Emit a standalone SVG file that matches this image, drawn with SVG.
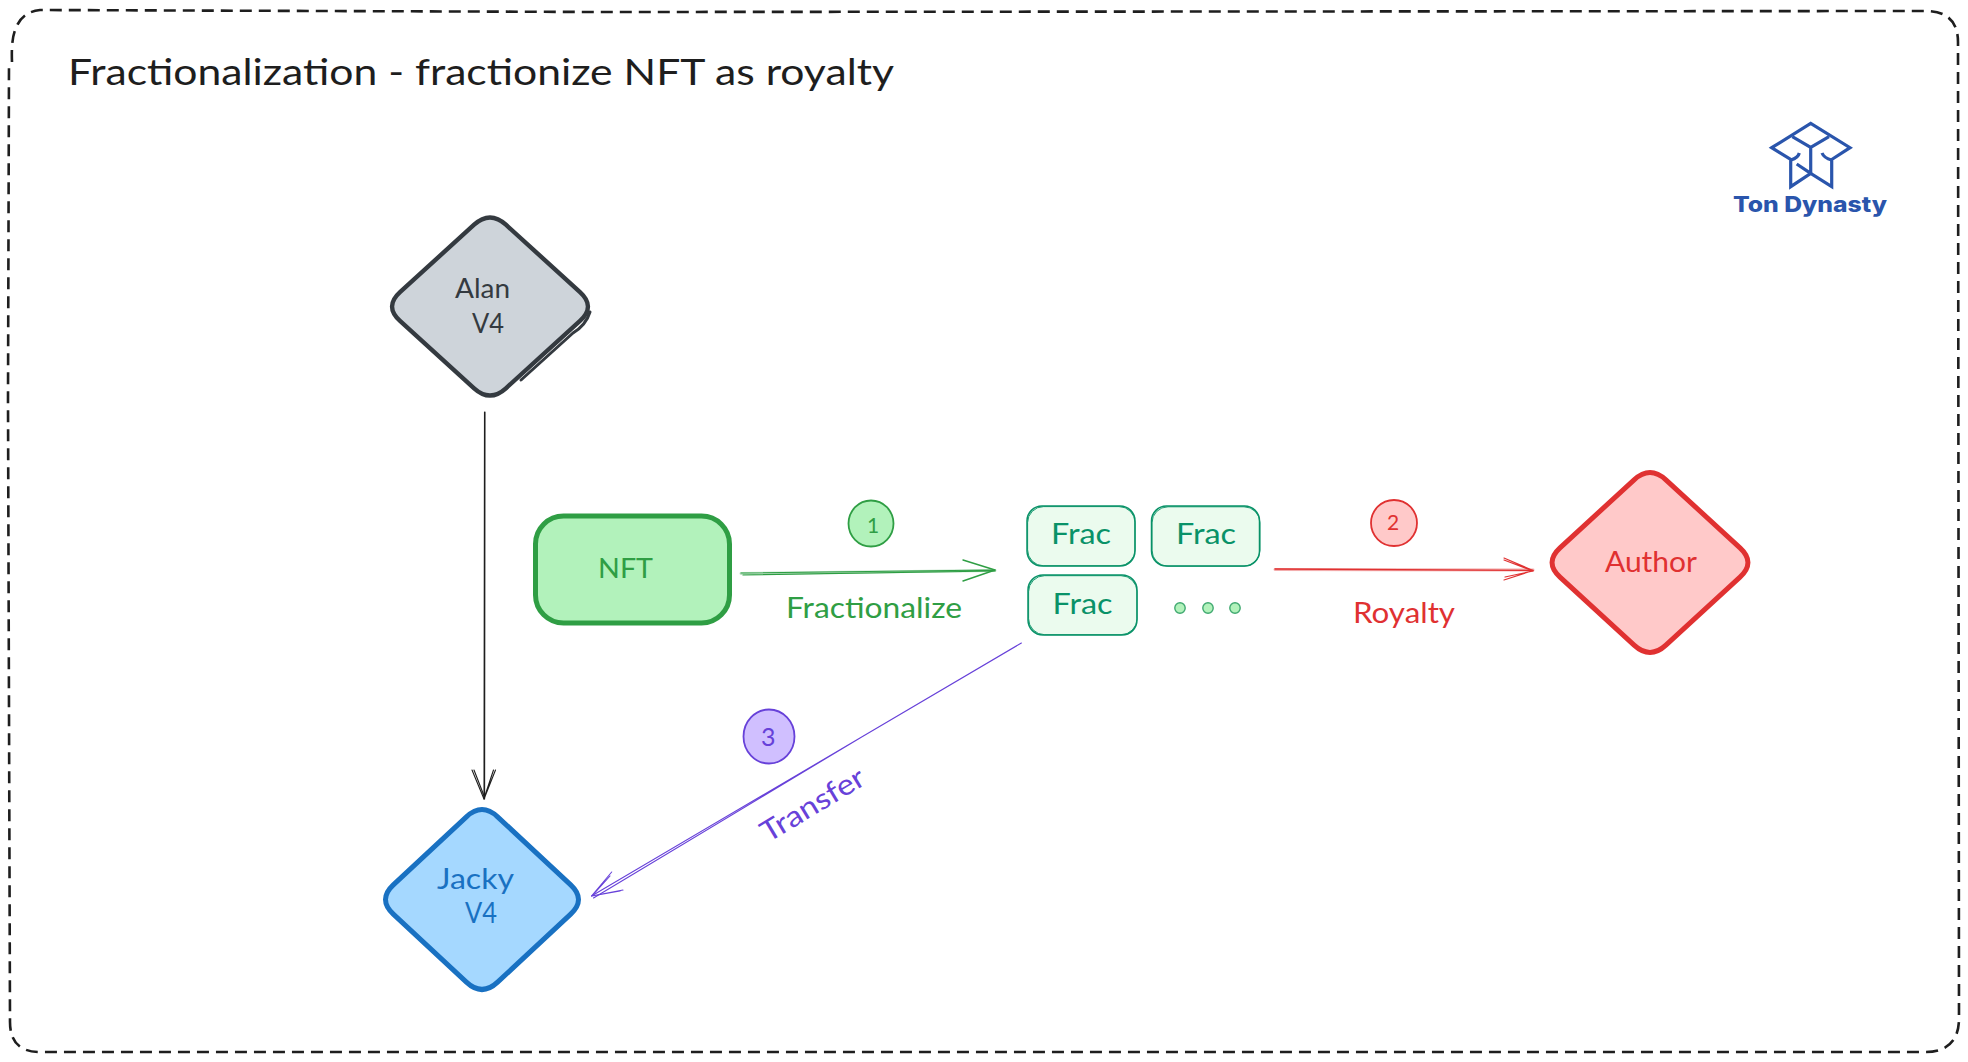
<svg xmlns="http://www.w3.org/2000/svg" width="1968" height="1062" viewBox="0 0 1968 1062">
<style>
text{font-family:"Lato","Open Sans","Liberation Sans",sans-serif;font-weight:400;text-anchor:start}
.t{fill:none;stroke-linecap:round;stroke-linejoin:round}
.gr{stroke:#2f9e44}.re{stroke:#e03131}.pu{stroke:#6741d9}.bk{stroke:#1e1e1e}
.frac{fill:#ebfbee;stroke:#099268;stroke-width:1.5}
.frac2{fill:none;stroke:#099268;stroke-width:.9}
.fractext{fill:#099268;font-size:29px}
.dot{fill:#b2f2bb;stroke:#40a970;stroke-width:1.4}
.logo{fill:none;stroke:#2a55ac;stroke-width:3.2;stroke-linejoin:miter}
</style>
<rect width="1968" height="1062" fill="#ffffff"/>
<g id="frame">
<path d="M12 62 Q11 38 16 28 Q22 12 40 10 L600 12 L1925 11 Q1958 11 1958 42 L1959 1020 Q1958 1052 1925 1052 L40 1052 Q10 1052 10 1022 L8 400 L9 62" fill="none" stroke="#1e1e1e" stroke-width="2.6" stroke-dasharray="12 7"/>
<text x="68" y="85" font-size="37" fill="#1e1e1e" textLength="826" lengthAdjust="spacingAndGlyphs">Fractionalization - fractionize NFT as royalty</text>
</g>
<g id="logo">
<path class="logo" d="M1771.7 147.7L1810.7 123.5L1850 147.7L1831.7 159.5V186.7L1810.7 173.3L1790.7 186.7V159.5Z"/>
<path class="logo" d="M1792.3 136.7L1810.7 147.3L1829 136.7M1810.7 147.3V173.3M1791 160Q1798 158 1799.3 153M1831.7 160Q1824 158 1822 153M1796.7 164L1810.7 173.3"/>
<text x="1733" y="212" font-size="22" fill="#2a55ac" style="font-family:Inter,'Open Sans',sans-serif;font-weight:800" textLength="154" lengthAdjust="spacingAndGlyphs">Ton Dynasty</text>
</g>
<g id="connectors" class="t">
<g id="alan-jacky" class="bk" stroke-width="1.1">
<path d="M484.5 412L484 799M485 412L484.6 799"/>
<path d="M472 770L484 799L495.5 770M474 770L484.5 797L493.5 770"/>
</g>
<g id="nft-frac" class="gr">
<path d="M741 573L995 570M743 575L995 571" stroke-width="1.2"/>
<path d="M741 573.5L995 570.5" stroke-width="3" opacity=".3"/>
<path d="M963 560L995 570L963 581" stroke-width="1.4"/>
</g>
<g id="frac-author" class="re">
<path d="M1275 569L1533 570.5" stroke-width="1.3"/>
<path d="M1275 569.5L1533 570" stroke-width="3" opacity=".4"/>
<path d="M1504 558L1533 570.5L1504 580M1504 560L1533 571L1505 577" stroke-width="1.2"/>
</g>
<g id="frac-jacky" class="pu" stroke-width="1.1">
<path d="M1021.4 643L591.5 896M860 738L593.5 898"/>
<path d="M611.7 872L591.5 896L623 890M610 876L592 896L620 891"/>
</g>
</g>
<g id="alan">
<path d="M474.1 224.7Q490 210.3 505.9 224.7L580 292.1Q595.9 306.5 580 320.9L505.9 388.3Q490 402.7 474.1 388.3L400 320.9Q384.1 306.5 400 292.1Z" fill="#ced4da" stroke="#343a40" stroke-width="4.4" stroke-linejoin="round"/>
<path class="t" d="M590 312Q586 325 573 333L521 380" stroke="#343a40" stroke-width="3"/>
<text x="455" y="298" font-size="27" fill="#343a40" textLength="55" lengthAdjust="spacingAndGlyphs">Alan</text>
<text x="472" y="333" font-size="27" fill="#343a40" textLength="32" lengthAdjust="spacingAndGlyphs">V4</text>
</g>
<g id="jacky">
<path d="M466.4 816.8Q482 802.2 497.6 816.8L570.7 884.9Q586.3 899.5 570.7 914.1L497.6 982.2Q482 996.8 466.4 982.2L393.3 914.1Q377.7 899.5 393.3 884.9Z" fill="#a5d8ff" stroke="#1971c2" stroke-width="5" stroke-linejoin="round"/>
<text x="437" y="889" font-size="28" fill="#1971c2" textLength="77" lengthAdjust="spacingAndGlyphs">Jacky</text>
<text x="465" y="923" font-size="28" fill="#1971c2" textLength="32" lengthAdjust="spacingAndGlyphs">V4</text>
</g>
<g id="nft">
<rect x="535.5" y="516" width="194" height="107" rx="28" fill="#b2f2bb" stroke="#2f9e44" stroke-width="5"/>
<text x="598" y="578" font-size="27" fill="#2f9e44" textLength="55" lengthAdjust="spacingAndGlyphs">NFT</text>
</g>
<g id="badge-1">
<ellipse cx="871" cy="523.5" rx="22.5" ry="23" fill="#b2f2bb" stroke="#2f9e44" stroke-width="1.8"/>
<text x="867" y="533" font-size="21" fill="#2f9e44">1</text>
</g>
<g id="label-fractionalize">
<text x="786" y="618" font-size="29" fill="#2f9e44" textLength="176" lengthAdjust="spacingAndGlyphs">Fractionalize</text>
</g>
<g id="frac-1">
<rect class="frac" x="1027" y="506" width="108" height="60" rx="15"/>
<rect class="frac2" x="1027.6" y="506.6" width="107.4" height="59.2" rx="16"/>
<text class="fractext" x="1051" y="544" textLength="60" lengthAdjust="spacingAndGlyphs">Frac</text>
</g>
<g id="frac-2">
<rect class="frac" x="1151.5" y="506" width="108" height="60" rx="15"/>
<rect class="frac2" x="1152" y="506.8" width="108" height="59.4" rx="16"/>
<text class="fractext" x="1176" y="544" textLength="60" lengthAdjust="spacingAndGlyphs">Frac</text>
</g>
<g id="frac-3">
<rect class="frac" x="1028" y="575" width="109" height="60" rx="15"/>
<rect class="frac2" x="1028.6" y="575.7" width="108.4" height="59" rx="16"/>
<text class="fractext" x="1052.5" y="614" textLength="60" lengthAdjust="spacingAndGlyphs">Frac</text>
</g>
<g id="frac-dots">
<circle class="dot" cx="1180" cy="608" r="5.2"/>
<circle class="dot" cx="1208" cy="608" r="5.2"/>
<circle class="dot" cx="1235" cy="608" r="5.2"/>
</g>
<g id="badge-2">
<circle cx="1394" cy="523" r="23" fill="#ffc9c9" stroke="#e03131" stroke-width="1.8"/>
<text x="1387" y="530" font-size="21" fill="#e03131">2</text>
</g>
<g id="label-royalty">
<text x="1353" y="623" font-size="29" fill="#e03131" textLength="102" lengthAdjust="spacingAndGlyphs">Royalty</text>
</g>
<g id="author">
<path d="M1634.1 479.8Q1650 465.2 1665.9 479.8L1740 547.9Q1755.9 562.5 1740 577.1L1665.9 645.2Q1650 659.8 1634.1 645.2L1560 577.1Q1544.1 562.5 1560 547.9Z" fill="#ffc9c9" stroke="#e03131" stroke-width="5" stroke-linejoin="round"/>
<text x="1605" y="572" font-size="28" fill="#e03131" textLength="92" lengthAdjust="spacingAndGlyphs">Author</text>
</g>
<g id="badge-3">
<ellipse cx="769" cy="736.5" rx="25.5" ry="27" fill="#d0bfff" stroke="#6741d9" stroke-width="1.8"/>
<text x="761" y="746" font-size="25" fill="#6741d9">3</text>
</g>
<g id="label-transfer">
<text x="0" y="0" font-size="29" fill="#6741d9" transform="translate(768 843) rotate(-31)" textLength="116" lengthAdjust="spacingAndGlyphs">Transfer</text>
</g>
</svg>
